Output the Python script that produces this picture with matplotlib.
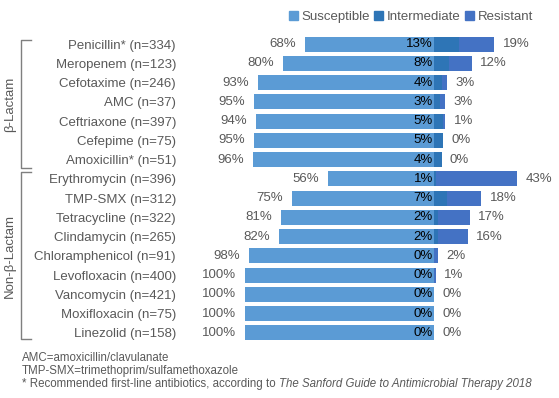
import matplotlib
matplotlib.use("Agg")
import matplotlib.pyplot as plt
from matplotlib.patches import Patch
from matplotlib.lines import Line2D

plt.rcParams['font.family'] = ['Liberation Sans', 'DejaVu Sans']

drugs = ["Penicillin* (n=334)", "Meropenem (n=123)", "Cefotaxime (n=246)", "AMC (n=37)",
         "Ceftriaxone (n=397)", "Cefepime (n=75)", "Amoxicillin* (n=51)",
         "Erythromycin (n=396)", "TMP-SMX (n=312)", "Tetracycline (n=322)",
         "Clindamycin (n=265)", "Chloramphenicol (n=91)", "Levofloxacin (n=400)",
         "Vancomycin (n=421)", "Moxifloxacin (n=75)", "Linezolid (n=158)"]
susceptible = [68, 80, 93, 95, 94, 95, 96, 56, 75, 81, 82, 98, 100, 100, 100, 100]
intermediate = [13, 8, 4, 3, 5, 5, 4, 1, 7, 2, 2, 0, 0, 0, 0, 0]
resistant = [19, 12, 3, 3, 1, 0, 0, 43, 18, 17, 16, 2, 1, 0, 0, 0]
groups = ["β-Lactam", "Non-β-Lactam"]
group_sizes = [7, 9]

c_s, c_i, c_r = "#5B9BD5", "#2E75B6", "#4472C4"
gray = "#595959"

W, H = 559, 398
fig = plt.figure(figsize=(W / 100, H / 100), dpi=100)
x0_px, x1_px = 245, 530
zero_px = 434
scale = 189 / 100
xmin = -100
xmax = (x1_px - zero_px) / scale
top_px, bot_px = 34.4, 342.6
ax = fig.add_axes([x0_px / W, 1 - bot_px / H, (x1_px - x0_px) / W, (bot_px - top_px) / H])
ax.set_xlim(xmin, xmax)
n = len(drugs)
ax.set_ylim(n - 0.5, -0.5)
ys = list(range(n))
bh = 0.78
neg_s = [-s for s in susceptible]
ax.barh(ys, susceptible, left=neg_s, height=bh, color=c_s, label="Susceptible")
ax.barh(ys, intermediate, left=0, height=bh, color=c_i, label="Intermediate")
ax.barh(ys, resistant, left=intermediate, height=bh, color=c_r, label="Resistant")

fs = 9.5
for y, s, i, r in zip(ys, susceptible, intermediate, resistant):
    ax.annotate(f"{s}%", (-s, y), xytext=(-6.5, 0), textcoords="offset points",
                ha="right", va="center", fontsize=fs, color=gray, annotation_clip=False)
    ax.annotate(f"{i}%", (0, y), xytext=(-0.7, 0), textcoords="offset points",
                ha="right", va="center", fontsize=fs, color="black", annotation_clip=False)
    ax.annotate(f"{r}%", (i + r, y), xytext=(6, 0), textcoords="offset points",
                ha="left", va="center", fontsize=fs, color=gray, annotation_clip=False)

ax.set_yticks(ys)
ax.set_yticklabels(drugs, fontsize=fs, color=gray)
ax.tick_params(axis="y", length=0, pad=(x0_px - 176) * 0.72)
ax.set_xticks([])
for sp in ax.spines.values():
    sp.set_visible(False)

# brackets
def fx(px):
    return px / W

def fy(py):
    return 1 - py / H

brackets = [(40, 168), (172, 339)]
for (t, b), g in zip(brackets, groups):
    fig.add_artist(Line2D([fx(31), fx(21), fx(21), fx(31)], [fy(t), fy(t), fy(b), fy(b)],
                          color="#7F7F7F", lw=1.0))
    fig.text(fx(10), fy((t + b) / 2), g, rotation=90, ha="center", va="center",
             fontsize=fs, color=gray)

# legend
handles = [Patch(color=c_s), Patch(color=c_i), Patch(color=c_r)]
fig.legend(handles, ["Susceptible", "Intermediate", "Resistant"], ncol=3,
           loc="center right", bbox_to_anchor=(fx(533), fy(17)), frameon=False,
           fontsize=fs, handlelength=0.7, handleheight=0.7, handletextpad=0.25,
           columnspacing=0.35, borderpad=0, borderaxespad=0, labelcolor=gray)

# footnotes
fn = 8.3
fig.text(fx(22), fy(358), "AMC=amoxicillin/clavulanate", fontsize=fn, color=gray, va="center")
fig.text(fx(22), fy(371), "TMP-SMX=trimethoprim/sulfamethoxazole", fontsize=fn, color=gray, va="center")
t1 = fig.text(fx(22), fy(383.5), "* Recommended first-line antibiotics, according to ",
              fontsize=fn, color=gray, va="center")
fig.canvas.draw()
bb = t1.get_window_extent()
fig.text(bb.x1 / W, fy(383.5), "The Sanford Guide to Antimicrobial Therapy 2018",
         fontsize=fn, color=gray, va="center", style="italic")

fig.savefig("out.png", dpi=100)
